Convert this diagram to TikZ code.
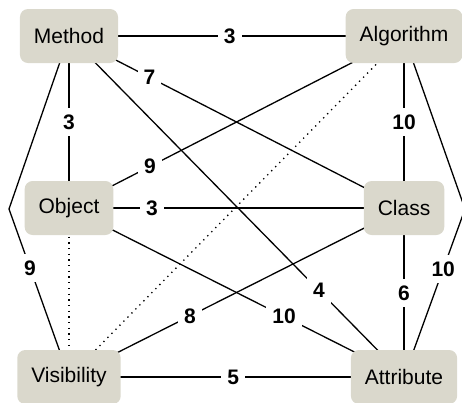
\documentclass[tikz,border=0pt]{standalone}
\usepackage{fontspec}
\setmainfont{Liberation Sans}
\usetikzlibrary{backgrounds}
\definecolor{conceptfill}{RGB}{218,216,204}

\begin{document}
\begin{tikzpicture}[
  x=1pt, y=-1pt,
  font=\fontsize{21}{25}\selectfont,
  concept/.style={fill=conceptfill, rounded corners=8pt, inner xsep=14pt,
                  inner ysep=0pt, minimum height=54pt},
  link/.style   ={line width=1.3pt},
  weak/.style   ={line width=1.3pt, dash pattern=on 1.3pt off 4.4pt},
  wt/.style     ={fill=white, inner xsep=6pt, inner ysep=6.5pt,
                  font=\fontsize{21}{25}\selectfont\bfseries},
]
\useasboundingbox (0,0) rectangle (462,402);

\def\xl{69}
\def\xr{404}
\def\yt{36}
\def\ym{208}
\def\yb{377}

\node[concept] (meth) at (\xl,\yt) {Method};
\node[concept] (algo) at (\xr,\yt) {Algorithm};
\node[concept] (obj)  at (\xl,\ym) {Object};
\node[concept] (cls)  at (\xr,\ym) {Class};
\node[concept] (vis)  at (\xl,\yb) {Visibility};
\node[concept] (attr) at (\xr,\yb) {Attribute};

\coordinate (kl) at (9,209);
\coordinate (kr) at (465,209);

\begin{scope}[on background layer]
  \draw[link] (meth.center) -- node[wt,pos=0.48]  {3}  (algo.center);
  \draw[link] (meth.center) -- node[wt,pos=0.5]   {3}  (obj.center);
  \draw[link] (meth.center) -- node[wt,pos=0.24]  {7}  (cls.center);
  \draw[link] (meth.center) -- node[wt,pos=0.746] {4}  (attr.center);
  \draw[link] (meth.center) -- (kl) -- node[wt,pos=0.35] {9} (vis.center);
  \draw[link] (algo.center) -- node[wt,pos=0.758] {9}  (obj.center);
  \draw[link] (algo.center) -- node[wt,pos=0.5]   {10} (cls.center);
  \draw[link] (algo.center) -- (kr) -- node[wt,pos=0.357] {10} (attr.center);
  \draw[weak] (algo.center) -- (vis.center);
  \draw[link] (obj.center)  -- node[wt,pos=0.248] {3}  (cls.center);
  \draw[weak] (obj.center)  -- (vis.center);
  \draw[link] (obj.center)  -- node[wt,pos=0.642] {10} (attr.center);
  \draw[link] (cls.center)  -- node[wt,pos=0.639] {8}  (vis.center);
  \draw[link] (cls.center)  -- node[wt,pos=0.503] {6}  (attr.center);
  \draw[link] (vis.center)  -- node[wt,pos=0.49]  {5}  (attr.center);
\end{scope}

\end{tikzpicture}
\end{document}
